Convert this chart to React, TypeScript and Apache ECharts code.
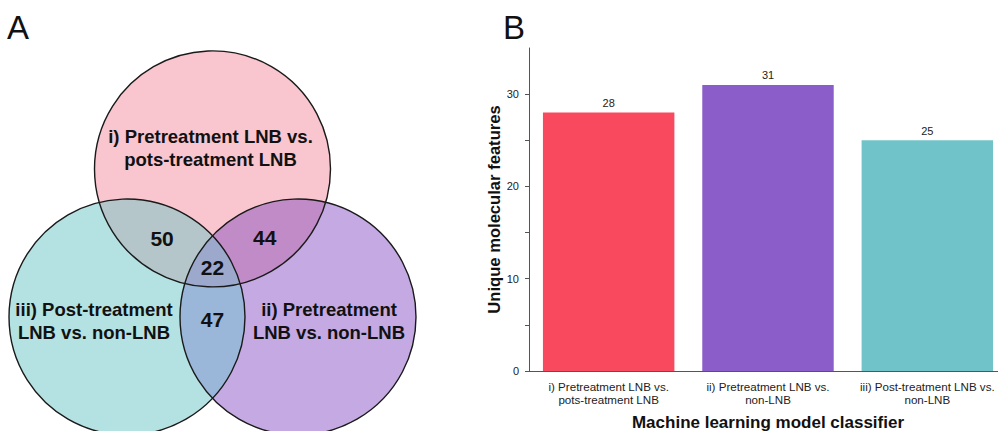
import React, { useEffect, useRef } from "react";
import * as echarts from "echarts";

// ---- data ----
const classifierLabels = [
  "i) Pretreatment LNB vs.\npots-treatment LNB",
  "ii) Pretreatment LNB vs.\nnon-LNB",
  "iii) Post-treatment LNB vs.\nnon-LNB",
];
const uniqueFeatures = [28, 31, 25];
const barColors = ["#F9495F", "#8B5DC8", "#70C3C8"];
const yTickLabels = [0, 10, 20, 30];
const yTickMarks = [0, 5, 10, 15, 20, 25, 30];

// Venn sets: i (top), ii (bottom right), iii (bottom left)
const vennSetLabels = [
  "i) Pretreatment LNB vs.\npots-treatment LNB",
  "ii) Pretreatment\nLNB vs. non-LNB",
  "iii) Post-treatment\nLNB vs. non-LNB",
];
const vennSetColors = ["#F9C5CF", "#C4A9E2", "#B4E1E1"];
// overlaps: [i∩iii, i∩ii, ii∩iii, i∩ii∩iii]
const vennOverlapCounts = [50, 44, 47, 22];
const vennOverlapColors = ["#B4C6CA", "#C18BC7", "#9AB6D8", "#9CA9CC"];

const FONT = "'Liberation Sans', Arial, sans-serif";

type Pt = [number, number];

// boundary of the intersection of several discs, traced by rays from an interior point
function discIntersection(centers: Pt[], r: number, inner: Pt, steps = 240): Pt[] {
  const pts: Pt[] = [];
  for (let k = 0; k < steps; k++) {
    const th = (k / steps) * Math.PI * 2;
    const ux = Math.cos(th);
    const uy = Math.sin(th);
    let tMin = Infinity;
    for (const c of centers) {
      const dx = inner[0] - c[0];
      const dy = inner[1] - c[1];
      const b = ux * dx + uy * dy;
      const cc = dx * dx + dy * dy - r * r;
      const t = -b + Math.sqrt(Math.max(0, b * b - cc));
      if (t < tMin) tMin = t;
    }
    pts.push([inner[0] + tMin * ux, inner[1] + tMin * uy]);
  }
  return pts;
}

function buildVenn(): any[] {
  const R = 118;
  const side = 171;
  const baseY = 317;
  const midX = 212.5;
  const top: Pt = [midX, baseY - (side * Math.sqrt(3)) / 2];
  const right: Pt = [midX + side / 2, baseY];
  const left: Pt = [midX - side / 2, baseY];
  const centers = [top, right, left];
  const g: Pt = [(top[0] + right[0] + left[0]) / 3, (top[1] + right[1] + left[1]) / 3];
  const mid = (a: Pt, b: Pt): Pt => [(a[0] + b[0]) / 2, (a[1] + b[1]) / 2];
  const push = (m: Pt, k: number): Pt => [g[0] + (m[0] - g[0]) * k, g[1] + (m[1] - g[1]) * k];

  const els: any[] = [];
  centers.forEach((c, i) => {
    els.push({ type: "circle", shape: { cx: c[0], cy: c[1], r: R }, style: { fill: vennSetColors[i] }, z: 1 });
  });
  const pairs: [Pt, Pt][] = [
    [top, left],
    [top, right],
    [right, left],
  ];
  pairs.forEach((p, i) => {
    els.push({
      type: "polygon",
      shape: { points: discIntersection(p, R, mid(p[0], p[1])) },
      style: { fill: vennOverlapColors[i] },
      z: 2,
    });
  });
  els.push({
    type: "polygon",
    shape: { points: discIntersection(centers, R, g) },
    style: { fill: vennOverlapColors[3] },
    z: 3,
  });
  centers.forEach((c) => {
    els.push({
      type: "circle",
      shape: { cx: c[0], cy: c[1], r: R },
      style: { fill: "none", stroke: "#1a1a1a", lineWidth: 1.4 },
      z: 4,
    });
  });

  const setTextPos: Pt[] = [
    [top[0] - 2, top[1] - 21],
    [right[0] + 31, right[1] + 4],
    [left[0] - 33, left[1] + 4],
  ];
  vennSetLabels.forEach((t, i) => {
    els.push({
      type: "text",
      z: 5,
      style: {
        text: t,
        x: setTextPos[i][0],
        y: setTextPos[i][1],
        align: "center",
        verticalAlign: "middle",
        fontFamily: FONT,
        fontWeight: "bold",
        fontSize: 18.5,
        lineHeight: 23,
        fill: "#111",
      },
    });
  });

  const countPos: Pt[] = [
    push(mid(top, left), 1.18),
    push(mid(top, right), 1.22),
    push(mid(right, left), 1.05),
    g,
  ];
  vennOverlapCounts.forEach((n, i) => {
    els.push({
      type: "text",
      z: 5,
      style: {
        text: String(n),
        x: countPos[i][0],
        y: countPos[i][1],
        align: "center",
        verticalAlign: "middle",
        fontFamily: FONT,
        fontWeight: "bold",
        fontSize: 21,
        fill: "#111",
      },
    });
  });

  const panelLetter = (t: string, x: number) => ({
    type: "text",
    z: 5,
    style: { text: t, x, y: 11, fontFamily: FONT, fontSize: 33, fill: "#111" },
  });
  els.push(panelLetter("A", 7), panelLetter("B", 503));
  return els;
}

export default function App() {
  const ref = useRef<HTMLDivElement>(null);

  useEffect(() => {
    document.body.style.margin = "0";
    if (!ref.current) return;
    const chart = echarts.init(ref.current, undefined, { renderer: "svg" });
    chart.setOption({
      animation: false,
      backgroundColor: "#ffffff",
      textStyle: { fontFamily: FONT },
      graphic: { elements: buildVenn() },
      grid: { left: 529, width: 478, top: 48, bottom: 60, containLabel: false, outerBoundsMode: "none" },
      xAxis: {
        type: "category",
        data: classifierLabels,
        axisLine: { lineStyle: { color: "#555", width: 1 } },
        axisTick: { show: false },
        axisLabel: { color: "#222", fontSize: 11.6, lineHeight: 13, margin: 9, interval: 0, fontFamily: FONT },
        name: "Machine learning model classifier",
        nameLocation: "middle",
        nameGap: 43,
        nameTextStyle: { fontSize: 17, fontWeight: "bold", color: "#111", fontFamily: FONT },
      },
      yAxis: {
        type: "value",
        min: 0,
        max: 35,
        interval: 5,
        splitLine: { show: false },
        axisLine: { show: true, lineStyle: { color: "#555", width: 1 } },
        axisTick: { show: true, length: 4, customValues: yTickMarks, lineStyle: { color: "#555" } },
        axisLabel: { customValues: yTickLabels, color: "#222", fontSize: 11, margin: 10, fontFamily: FONT },
        name: "Unique molecular features",
        nameLocation: "middle",
        nameGap: 26,
        nameTextStyle: { fontSize: 16.6, fontWeight: "bold", color: "#111", fontFamily: FONT },
      },
      series: [
        {
          type: "bar",
          barWidth: "82.5%",
          data: uniqueFeatures.map((v, i) => ({ value: v, itemStyle: { color: barColors[i] } })),
          label: { show: true, position: "top", distance: 4, fontSize: 11, color: "#222", fontFamily: FONT },
        },
      ],
    });
    return () => chart.dispose();
  }, []);

  return <div ref={ref} style={{ width: 998, height: 431 }} />;
}
